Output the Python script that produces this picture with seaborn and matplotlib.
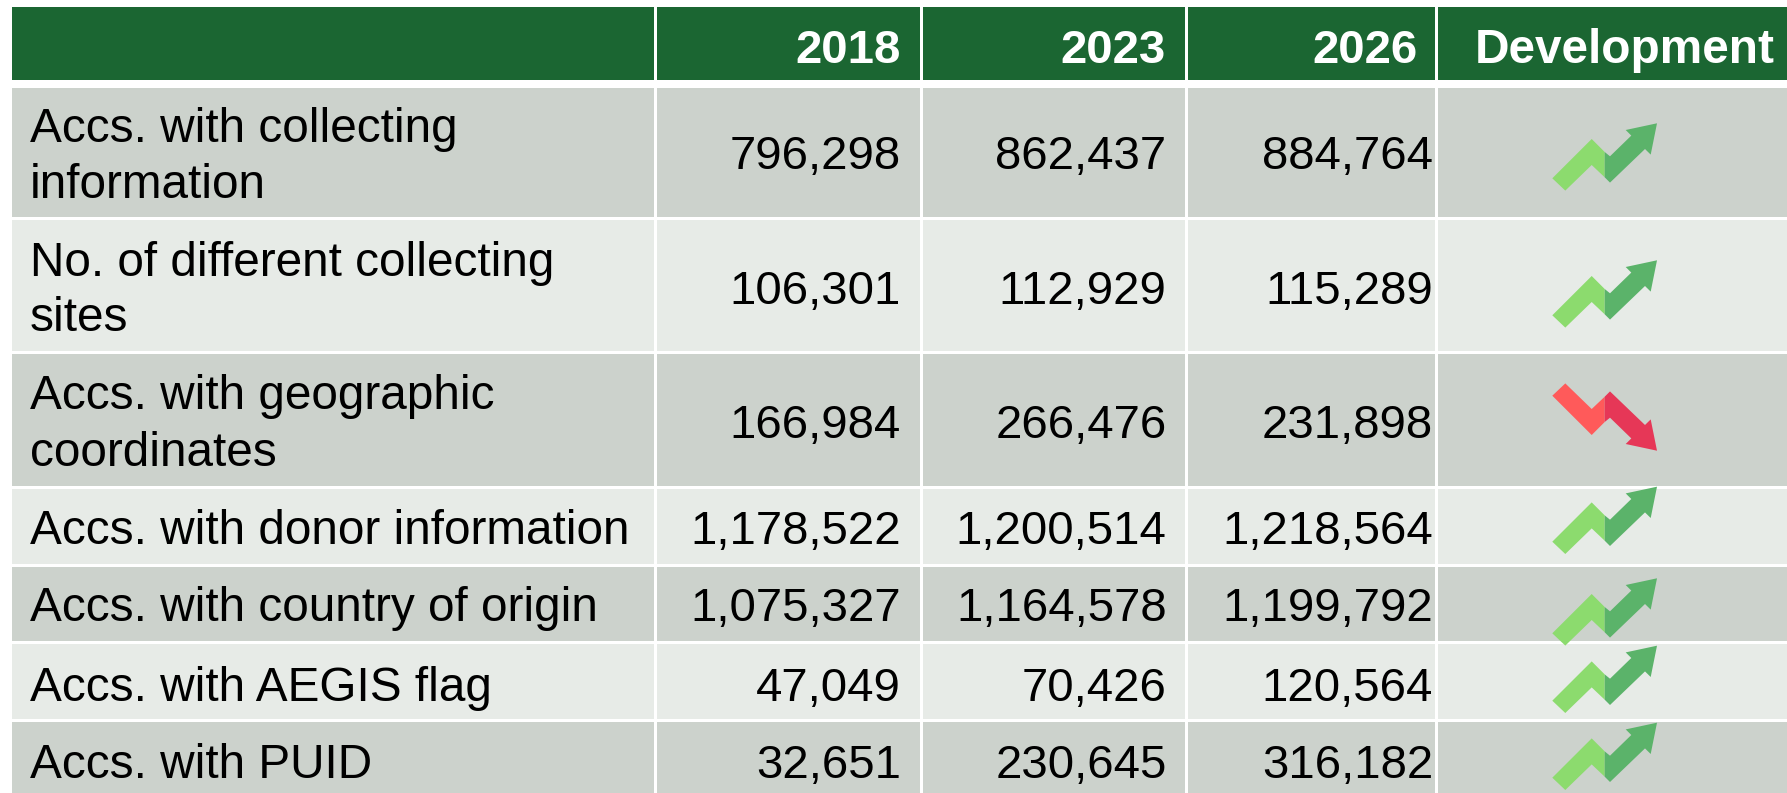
import matplotlib
matplotlib.use("Agg")
import matplotlib.pyplot as plt
import seaborn as sns
from matplotlib.patches import Polygon

# ---- data ----
row_labels = ["Accs. with collecting\ninformation", "No. of different collecting\nsites",
              "Accs. with geographic\ncoordinates", "Accs. with donor information",
              "Accs. with country of origin", "Accs. with AEGIS flag", "Accs. with PUID"]
col_labels = ["2018", "2023", "2026", "Development"]
v2018 = [796298, 106301, 166984, 1178522, 1075327, 47049, 32651]
v2023 = [862437, 112929, 266476, 1200514, 1164578, 70426, 230645]
v2026 = [884764, 115289, 231898, 1218564, 1199792, 120564, 316182]

# ---- layout (pixels) ----
W, H = 1787, 793
col_edges = [12, 654, 919.5, 1184.5, 1435, 1787]
header = (7, 80)
row_tops = [88, 220, 354, 489, 567, 644, 722]
row_bottoms = [217, 351, 486, 563.5, 641, 719, 793]
label_base = [(142, 198), (276, 331), (409, 466), (544,), (621,), (701,), (778,)]
value_base = [169, 304, 438, 544, 621, 701, 778]
arrow_tip = [123.3, 260.3, 382.7, 486.7, 578.3, 645.7, 722.7]
value_right = [901, 1166.5, 1433]
header_right = [901, 1166, 1418]

sns.set_theme(style="white", rc={"axes.edgecolor": "none"})
plt.rcParams["font.family"] = ["Liberation Sans", "DejaVu Sans"]
fig, ax = plt.subplots(figsize=(W / 100, H / 100), dpi=100)
ax.set_position([0, 0, 1, 1])
ax.set_xlim(0, W)
ax.set_ylim(H, 0)
ax.axis("off")

HEAD, DARK, LIGHT = "#1B6632", "#CCD2CC", "#E7EBE7"
FS_LABEL, FS_VALUE = 34.4, 34.1
GAP = 3
for c in range(5):
    x0, x1 = col_edges[c] + (GAP if c else 0), col_edges[c + 1]
    ax.barh((header[0] + header[1]) / 2, x1 - x0, height=header[1] - header[0], left=x0,
            color=HEAD, linewidth=0)
    for r in range(7):
        ax.barh((row_tops[r] + row_bottoms[r]) / 2, x1 - x0, height=row_bottoms[r] - row_tops[r],
                left=x0, color=DARK if r % 2 == 0 else LIGHT, linewidth=0)

# header text
for lab, xr in zip(col_labels[:3], header_right):
    ax.text(xr, 62.7, lab, ha="right", va="baseline", fontsize=FS_VALUE, fontweight="bold", color="white")
ax.text(1625, 62.7, col_labels[3], ha="center", va="baseline", fontsize=FS_LABEL, fontweight="bold", color="white")

# icon outline, relative to the upper-right tip, pointing up
light_shape = [(-104.7, 55.0), (-65.3, 15.7), (-52.3, 28.7), (-52.3, 54.0), (-65.3, 41.7), (-91.7, 67.3)]
dark_shape = [(-52.3, 28.7), (-47, 33), (-25.7, 12.3), (-31.3, 6.7), (0, 0), (-6.3, 31.3), (-12, 25.7),
              (-47, 59.3), (-52.3, 54.0)]


def draw_icon(tip_y, rising, tip_x=1657):
    for shape, up_col, down_col in [(light_shape, "#8CDB6E", "#FF5A5A"), (dark_shape, "#5BB36A", "#E63757")]:
        if rising:
            pts = [(tip_x + dx, tip_y + dy) for dx, dy in shape]
        else:
            pts = [(tip_x + dx, tip_y + 68 - dy) for dx, dy in shape]
        ax.add_patch(Polygon(pts, closed=True, facecolor=up_col if rising else down_col, edgecolor="none"))


for r in range(7):
    for line, yb in zip(row_labels[r].split("\n"), label_base[r]):
        ax.text(30, yb, line, ha="left", va="baseline", fontsize=FS_LABEL, color="black")
    for vals, xr in zip((v2018, v2023, v2026), value_right):
        ax.text(xr, value_base[r], f"{vals[r]:,}", ha="right", va="baseline", fontsize=FS_VALUE, color="black")
    draw_icon(arrow_tip[r], v2026[r] >= v2023[r])

fig.savefig("out.png", dpi=100, facecolor="white")
